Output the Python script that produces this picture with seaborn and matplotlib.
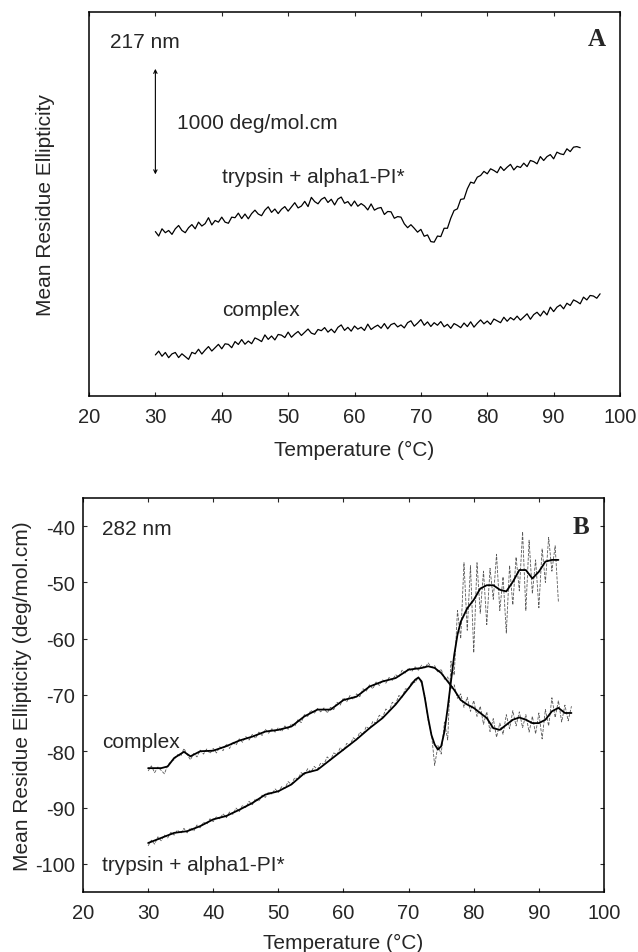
import numpy as np
import matplotlib
matplotlib.use("Agg")
import matplotlib.pyplot as plt
import seaborn as sns

sns.set_style("ticks")
plt.rcParams["font.family"] = ["Liberation Sans", "DejaVu Sans"]
plt.rcParams["axes.unicode_minus"] = False

# ---- Panel A (217 nm), arbitrary offset units, 1000 deg/mol.cm scale bar ----
a_start, a_step = 30.0, 0.5
a_trypsin = [
    1480, 1440, 1505, 1470, 1490, 1455, 1505, 1535, 1490, 1470,
    1515, 1543, 1505, 1565, 1530, 1552, 1605, 1540, 1580, 1565,
    1610, 1565, 1555, 1610, 1605, 1646, 1597, 1638, 1595, 1642,
    1673, 1638, 1623, 1673, 1703, 1653, 1683, 1642, 1681, 1705,
    1664, 1702, 1740, 1693, 1710, 1752, 1705, 1788, 1750, 1730,
    1770, 1788, 1742, 1771, 1720, 1773, 1791, 1735, 1750, 1710,
    1755, 1708, 1732, 1711, 1675, 1729, 1673, 1690, 1697, 1634,
    1661, 1658, 1600, 1615, 1610, 1550, 1515, 1542, 1510, 1475,
    1500, 1438, 1450, 1390, 1385, 1440, 1435, 1510, 1510, 1600,
    1670, 1685, 1770, 1775, 1865, 1925, 1915, 1970, 1985, 2022,
    2000, 2045, 2030, 2010, 2065, 2030, 2060, 2085, 2035, 2068,
    2057, 2096, 2065, 2120, 2110, 2090, 2155, 2120, 2155, 2173,
    2135, 2195, 2180, 2173, 2225, 2200, 2240, 2245, 2235,
]
a_complex = [
    370, 404, 358, 392, 345, 379, 392, 346, 380, 355,
    330, 393, 380, 421, 378, 414, 445, 405, 435, 465,
    425, 470, 465, 435, 490, 464, 508, 466, 495, 471,
    523, 509, 490, 550, 510, 540, 505, 554, 548, 526,
    575, 529, 558, 581, 545, 574, 603, 566, 555, 599,
    588, 616, 575, 602, 570, 618, 640, 591, 618, 584,
    630, 602, 619, 590, 647, 599, 621, 638, 610, 652,
    605, 643, 655, 622, 640, 613, 660, 677, 629, 656,
    688, 637, 667, 626, 660, 637, 670, 623, 645, 609,
    652, 636, 615, 657, 625, 668, 620, 655, 685, 650,
    675, 644, 693, 676, 660, 709, 673, 706, 685, 719,
    683, 711, 740, 691, 733, 754, 720, 765, 730, 800,
    760, 800, 820, 785, 835, 815, 865, 850, 830, 890,
    865, 905, 900, 880, 920,
]

# ---- Panel B (282 nm), deg/mol.cm ----
b_start, b_step = 30.0, 0.5
b_complex_raw = [
    -83.5, -82.6, -83.8, -82.8, -83.4, -84.0, -82.5, -81.8, -81.5, -80.6,
    -80.9, -79.5, -80.6, -81.5, -80.4, -81.0, -79.8, -80.5, -79.6, -80.4,
    -79.5, -80.3, -79.2, -79.9, -78.7, -79.5, -78.3, -78.9, -77.8, -78.4,
    -77.4, -78.0, -77.0, -77.7, -76.6, -77.2, -76.1, -76.8, -76.0, -76.6,
    -75.8, -76.5, -75.5, -76.1, -75.1, -75.6, -74.4, -74.9, -73.5, -73.8,
    -72.7, -73.3, -72.4, -73.0, -72.3, -73.2, -72.2, -72.6, -71.3, -71.8,
    -70.5, -71.2, -70.1, -70.8, -69.8, -70.3, -68.9, -69.3, -68.2, -68.9,
    -67.7, -68.3, -67.3, -67.9, -66.9, -67.4, -66.4, -66.8, -65.6, -66.1,
    -65.2, -65.8, -65.0, -65.6, -64.7, -65.2, -64.3, -65.1, -64.8, -66.0,
    -65.4, -67.2, -66.8, -68.9, -68.2, -70.6, -69.8, -72.2, -70.4, -72.9,
    -71.0, -73.8, -72.0, -75.2, -73.0, -76.5, -74.2, -77.5, -75.0, -77.0,
    -73.5, -76.0, -72.8, -75.5, -73.0, -75.8, -73.5, -76.6, -73.8, -76.9,
    -73.2, -77.8, -72.6, -75.5, -70.5, -74.0, -71.0, -74.8, -71.8, -74.6,
    -72.0,
]
b_trypsin_raw = [
    -96.8, -95.8, -96.5, -95.2, -95.9, -94.9, -95.4, -94.4, -94.9, -94.0,
    -94.6, -93.7, -94.5, -93.6, -94.2, -93.1, -93.6, -92.6, -93.0, -92.0,
    -92.5, -91.6, -92.0, -91.1, -91.8, -90.8, -91.2, -90.1, -90.7, -89.6,
    -90.0, -88.9, -89.5, -88.4, -88.9, -87.8, -88.2, -87.2, -87.6, -86.7,
    -87.3, -86.3, -86.6, -85.4, -85.9, -84.7, -84.9, -83.8, -84.2, -83.1,
    -83.7, -82.7, -83.2, -82.1, -82.3, -81.0, -81.6, -80.3, -80.6, -79.4,
    -79.9, -78.6, -78.9, -77.6, -78.0, -76.6, -77.0, -75.6, -76.1, -74.7,
    -75.0, -73.6, -74.0, -72.5, -72.9, -71.3, -71.6, -70.1, -70.4, -68.9,
    -69.0, -67.6, -67.8, -66.8, -68.0, -70.2, -74.5, -76.8, -82.5, -79.0,
    -80.5, -74.8, -78.0, -64.0, -66.5, -55.0, -60.0, -46.5, -58.5, -47.0,
    -62.5, -46.5, -55.5, -48.0, -57.5, -47.5, -53.0, -45.0, -55.0, -49.0,
    -59.0, -47.0, -54.0, -45.5, -51.5, -41.0, -55.0, -42.5, -52.0, -46.0,
    -54.5, -44.0, -50.0, -42.0, -48.0, -43.5, -53.5,
]
# smoothed fits
b_complex_fit_t = [30, 32, 33, 34, 35.5, 36.5, 38, 40, 42, 44, 46, 48, 50, 52,
                   54, 56, 58, 60, 62, 64, 66, 68, 70, 72, 73, 74, 75, 76, 77,
                   78, 79, 80, 82, 83, 84, 85, 86, 87, 88, 89, 90, 91, 92, 93,
                   94, 95]
b_complex_fit = [-83.0, -83.0, -82.7, -81.2, -80.1, -80.9, -80.0, -79.9, -79.1,
                 -78.1, -77.4, -76.5, -76.2, -75.6, -73.8, -72.6, -72.6, -70.9,
                 -70.3, -68.5, -67.6, -67.0, -65.5, -65.2, -64.9, -65.2, -66.1,
                 -67.6, -69.1, -70.9, -71.7, -72.3, -74.1, -75.9, -76.2, -75.3,
                 -74.4, -74.0, -74.4, -75.0, -75.0, -74.4, -72.9, -72.3, -73.2,
                 -73.2]
b_trypsin_fit_t = [30, 32, 34, 36, 38, 40, 42, 44, 46, 48, 50, 52, 54, 56, 58,
                   60, 62, 64, 66, 68, 70, 71, 71.5, 72, 72.5, 73, 73.5, 74,
                   74.5, 75, 75.5, 76, 76.5, 77, 77.5, 78, 79, 80, 81, 82, 83,
                   84, 85, 86, 87, 88, 89, 90, 91, 92, 93]
b_trypsin_fit = [-96.3, -95.4, -94.5, -94.2, -93.3, -92.1, -91.5, -90.4, -89.2,
                 -87.7, -87.1, -85.9, -83.9, -83.3, -81.5, -79.7, -77.9, -75.9,
                 -74.1, -71.7, -68.8, -67.3, -66.9, -67.6, -70.6, -74.1, -77.1,
                 -78.8, -79.7, -79.1, -76.5, -72.3, -67.6, -62.9, -59.3, -57.0,
                 -54.6, -53.1, -51.1, -50.5, -50.5, -51.3, -51.6, -49.9, -47.8,
                 -47.8, -49.3, -48.1, -46.3, -46.0, -46.0]

xticks = [20, 30, 40, 50, 60, 70, 80, 90, 100]
yticks_b = [-40, -50, -60, -70, -80, -90, -100]

TICK_FS = 14.5
TEXT_FS = 15

fig = plt.figure(figsize=(6.38, 9.53), dpi=100)
fig.set_facecolor("white")
axA = fig.add_axes([0.1395, 0.5834, 0.8323, 0.4029])
axB = fig.add_axes([0.1301, 0.0630, 0.8166, 0.4134])

# Panel A
tA1 = a_start + a_step * np.arange(len(a_trypsin))
tA2 = a_start + a_step * np.arange(len(a_complex))
sns.lineplot(x=tA1, y=a_trypsin, color="black", lw=0.9, ax=axA)
sns.lineplot(x=tA2, y=a_complex, color="black", lw=0.9, ax=axA)
axA.annotate("", xy=(30, 1970), xytext=(30, 2970),
             arrowprops=dict(arrowstyle="<->", color="black", lw=0.8,
                             mutation_scale=6))
axA.text(23.2, 3195, "217 nm", fontsize=TEXT_FS, va="center")
axA.text(33.3, 2466, "1000 deg/mol.cm", fontsize=TEXT_FS, va="center")
axA.text(40, 1980, "trypsin + alpha1-PI*", fontsize=TEXT_FS, va="center")
axA.text(40, 783, "complex", fontsize=TEXT_FS, va="center")
axA.text(96.5, 3222, "A", fontsize=18, fontweight="bold", ha="center",
         va="center", family="Liberation Serif")
axA.set_xlim(20, 100)
axA.set_ylim(0, 3456)
axA.set_xticks(xticks)
axA.set_yticks([])
axA.tick_params(axis="x", direction="in", top=True, length=3,
                labelsize=TICK_FS, pad=8)
axA.set_xlabel("Temperature (°C)", fontsize=TEXT_FS, labelpad=10)
axA.set_ylabel("Mean Residue Ellipticity", fontsize=TEXT_FS)
axA.yaxis.set_label_coords(-0.064, 0.5)

# Panel B
tB1 = b_start + b_step * np.arange(len(b_complex_raw))
tB2 = b_start + b_step * np.arange(len(b_trypsin_raw))
sns.lineplot(x=tB1, y=b_complex_raw, color="0.35", lw=0.6, linestyle="--",
             ax=axB)
sns.lineplot(x=tB2, y=b_trypsin_raw, color="0.35", lw=0.6, linestyle="--",
             ax=axB)
sns.lineplot(x=b_complex_fit_t, y=b_complex_fit, color="black", lw=1.3, ax=axB)
sns.lineplot(x=b_trypsin_fit_t, y=b_trypsin_fit, color="black", lw=1.3, ax=axB)
axB.text(22.9, -40.4, "282 nm", fontsize=TEXT_FS, va="center")
axB.text(96.5, -40.0, "B", fontsize=18, fontweight="bold", ha="center",
         va="center", family="Liberation Serif")
axB.text(22.9, -78.2, "complex", fontsize=TEXT_FS, va="center")
axB.text(22.9, -100.1, "trypsin + alpha1-PI*", fontsize=TEXT_FS, va="center")
axB.set_xlim(20, 100)
axB.set_ylim(-105, -35)
axB.set_xticks(xticks)
axB.set_yticks(yticks_b)
axB.tick_params(direction="in", top=True, right=True, length=3,
                labelsize=TICK_FS, pad=6)
axB.tick_params(axis="x", pad=8)
axB.set_xlabel("Temperature (°C)", fontsize=TEXT_FS, labelpad=8)
axB.set_ylabel("Mean Residue Ellipticity (deg/mol.cm)", fontsize=TEXT_FS)
axB.yaxis.set_label_coords(-0.098, 0.5)

for ax in (axA, axB):
    for s in ax.spines.values():
        s.set_linewidth(1.1)
        s.set_color("black")

fig.savefig("out.png", dpi=100, facecolor="white")
